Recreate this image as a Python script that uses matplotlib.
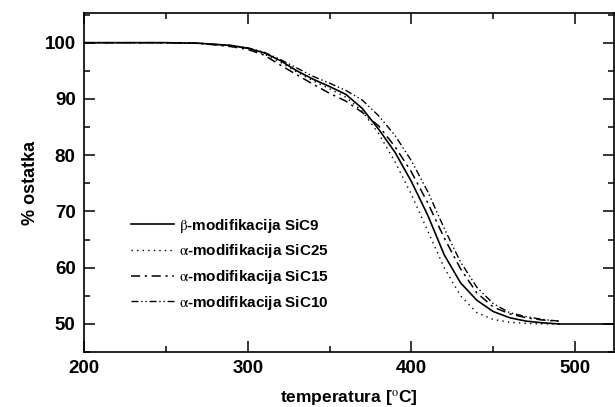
import matplotlib
matplotlib.use("Agg")
import matplotlib.pyplot as plt
from matplotlib.ticker import MultipleLocator

plt.rcParams["font.family"] = ["Liberation Sans", "DejaVu Sans"]
plt.rcParams["mathtext.fontset"] = "stix"

# temperatura [C]
temp = [200, 250, 270, 290, 300, 310, 320, 330, 340, 350, 360, 370, 380,
        390, 400, 410, 420, 430, 440, 450, 460, 470, 480, 490]

sic9 = [100, 100, 99.9, 99.5, 99.0, 98.2, 96.8, 95.0, 93.5, 92.2, 90.8, 88.3, 84.6,
        80.5, 75.3, 69.3, 62.3, 57.3, 54.2, 52.2, 51.1, 50.5, 50.2, 50.0]
sic25 = [100, 100, 99.9, 99.5, 99.0, 98.0, 96.5, 94.8, 93.2, 91.8, 90.3, 87.8, 83.8,
         78.8, 73.0, 66.5, 60.0, 55.0, 52.0, 50.8, 50.3, 50.1, 50.0, 50.0]
sic15 = [100, 100, 99.9, 99.3, 98.8, 97.8, 96.0, 94.3, 92.6, 91.0, 89.6, 87.6, 85.2,
         81.5, 77.0, 71.5, 65.3, 59.8, 55.5, 53.0, 51.8, 51.1, 50.7, 50.5]
sic10 = [100, 100, 99.9, 99.5, 99.1, 98.3, 97.0, 95.5, 94.0, 92.8, 91.5, 89.8, 87.0,
         83.5, 79.0, 73.5, 67.0, 61.0, 56.5, 53.6, 52.0, 51.3, 50.8, 50.5]

# solid curve continues on the plateau up to the edge
temp_end = [490, 524]
sic9_end = [50.0, 50.0]

labels = [r"$\mathrm{\beta}$-modifikacija SiC9", r"$\mathrm{\alpha}$-modifikacija SiC25",
          r"$\mathrm{\alpha}$-modifikacija SiC15", r"$\mathrm{\alpha}$-modifikacija SiC10"]

fig = plt.figure(figsize=(6.15, 4.07), dpi=100)
ax = fig.add_axes([0.1366, 0.135, 0.8625, 0.832])

ax.plot(temp, sic9, color="black", lw=1.2, label=labels[0])
ax.plot(temp_end, sic9_end, color="black", lw=1.2)
ax.plot(temp, sic25, color="black", lw=1.0, linestyle=(0, (1, 3)), label=labels[1])
ax.plot(temp, sic15, color="black", lw=1.1, linestyle=(0, (6, 3, 1.5, 3)), label=labels[2])
ax.plot(temp, sic10, color="black", lw=1.0, linestyle=(0, (5, 2, 1, 2, 1, 2)), label=labels[3])

ax.set_xlim(200, 524)
ax.set_ylim(45, 105.2)
ax.xaxis.set_major_locator(MultipleLocator(100))
ax.xaxis.set_minor_locator(MultipleLocator(50))
ax.yaxis.set_major_locator(MultipleLocator(10))
ax.yaxis.set_minor_locator(MultipleLocator(5))
ax.tick_params(which="both", direction="in", top=True, right=True, width=1.1)
ax.tick_params(which="major", length=8, labelsize=13.5, pad=6)
ax.tick_params(which="minor", length=4)
for lab in ax.get_xticklabels() + ax.get_yticklabels():
    lab.set_fontweight("bold")
for sp in ax.spines.values():
    sp.set_linewidth(1.2)

ax.set_xlabel("temperatura [$^\\mathrm{o}$C]", fontsize=12.5, fontweight="bold", labelpad=8)
ax.set_ylabel("% ostatka", fontsize=13, fontweight="bold", labelpad=4)

leg = ax.legend(loc="upper left", bbox_to_anchor=(0.063, 0.44), frameon=False,
                handlelength=2.8, handletextpad=0.3, labelspacing=0.5,
                prop={"size": 11, "weight": "bold"})

fig.savefig("out.png", dpi=100)
